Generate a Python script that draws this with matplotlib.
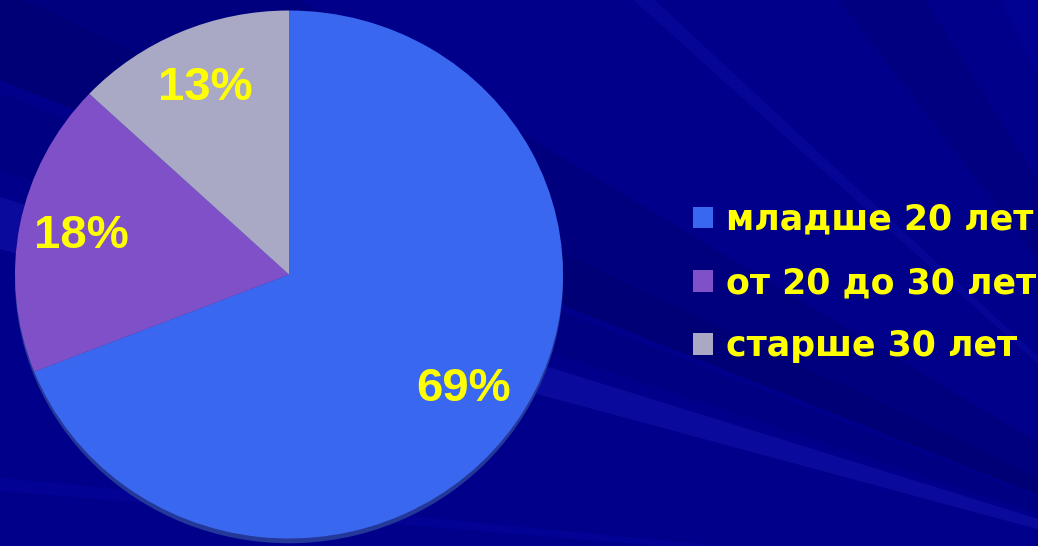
import matplotlib
matplotlib.use("Agg")
import matplotlib.pyplot as plt
from matplotlib.patches import Polygon, Ellipse

# данные
labels = ["младше 20 лет", "от 20 до 30 лет", "старше 30 лет"]
values = [69, 18, 13]
colors = ["#3a67f0", "#8050c8", "#a9a9c6"]

plt.rcParams['font.family'] = ['Liberation Sans', 'DejaVu Sans']

W, H = 1038, 546
fig = plt.figure(figsize=(W / 100, H / 100), dpi=100)
fig.patch.set_facecolor("#00008a")
ax = fig.add_axes([0, 0, 1, 1])
ax.set_facecolor("#00008a")

# фон: лучи из точки справа внизу (наклон, наклон, цвет)
fx, fy = 1300, 600
rays = [
    (0.40, 0.47, "#000076"),
    (0.47, 0.60, "#00007e"),
    (0.33, 0.39, "#000082"),
    (0.27, 0.31, "#0a0a9c"),
    (0.084, 0.094, "#020294"),
    (0.90, 0.93, "#050596"),
    (1.30, 1.60, "#000080"),
    (2.00, 2.60, "#020292"),
]
for s1, s2, c in rays:
    x_far = -300
    pts = [(fx, fy), (x_far, fy - s1 * (fx - x_far)), (x_far, fy - s2 * (fx - x_far))]
    pts = [(px / W, 1 - py / H) for px, py in pts]
    ax.add_patch(Polygon(pts, closed=True, transform=ax.transAxes,
                         facecolor=c, edgecolor="none", zorder=0))

# тень под диаграммой
ax.add_patch(Ellipse((0, -0.018), 2, 2, facecolor="#24389a",
                     edgecolor="none", zorder=1))

wedges, texts, autotexts = ax.pie(
    values, colors=colors, startangle=90, counterclock=False,
    autopct=lambda p: f"{p:.0f}%", pctdistance=0.77,
    wedgeprops=dict(edgecolor="none", zorder=2),
    textprops=dict(color="#ffff00", fontsize=34, fontweight="bold"))
for t in autotexts:
    t.set_zorder(3)

ax.set_aspect("auto")
ax.set_xlim(-289 / 274, (W - 289) / 274)
ax.set_ylim(-(H - 274.5) / 264, 274.5 / 264)
ax.axis("off")

leg = ax.legend(wedges, labels, loc="center left",
                bbox_to_anchor=(693 / W, 1 - 283 / H),
                bbox_transform=fig.transFigure, frameon=False,
                prop=dict(family="DejaVu Sans", weight="bold", size=25),
                handlelength=0.58, handleheight=0.58,
                handletextpad=0.36, labelspacing=0.84, borderpad=0,
                borderaxespad=0)
for t in leg.get_texts():
    t.set_color("#ffff00")

fig.savefig("out.png", dpi=100, facecolor=fig.get_facecolor())
